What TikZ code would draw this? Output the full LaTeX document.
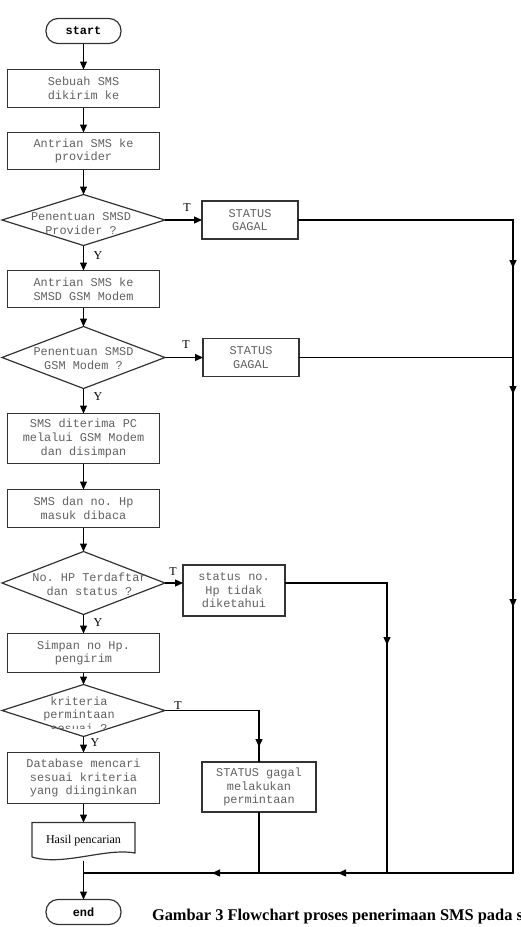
\documentclass[tikz,border=0pt]{standalone}
\usepackage{fontspec}
\setmainfont{Liberation Serif}
\setmonofont{Liberation Mono}
\usetikzlibrary{positioning,shapes.geometric,arrows.meta,decorations.markings,calc}

\newcommand{\boxfont}{\fontsize{11.9}{13.6}\selectfont\ttfamily}

\begin{document}
\begin{tikzpicture}[x=1pt, y=-1pt, line width=1.2pt, every node/.style={outer sep=0pt},
    main/.style = {draw=black!80, rectangle, minimum width=151.5pt, align=center, inner sep=1pt, text=black!62, font=\boxfont},
    term/.style = {draw=black!80, rounded corners=12pt, minimum width=75pt, minimum height=25pt, inner sep=0pt, font=\boxfont\bfseries},
    dec/.style = {draw=black!80, diamond, inner sep=0pt, minimum width=163pt},
    dectext/.style = {align=center, text=black!62, font=\boxfont, inner sep=0pt},
    lbl/.style = {font=\fontsize{12}{14}\selectfont, inner sep=0pt},
    flow/.style = {draw=black, -{Triangle[length=8pt,width=7pt]}},
    line/.style = {draw=black},
    midtip/.style = {postaction={decorate, decoration={markings, mark=at position #1 with {\arrow{Triangle[length=8pt,width=7pt]}}}}}]
    \useasboundingbox (0,0) rectangle (520,927);

    % main column
    \node[term] (1) at (83.5,31) {start};
    \node[main, minimum height=38pt] (2) [below=26pt of 1] {Sebuah SMS\\dikirim ke};
    \node[main, minimum height=37pt] (3) [below=25pt of 2] {Antrian SMS ke\\provider};
    \node[dec, minimum height=51pt, label={[dectext, xshift=-2.5pt, yshift=-3.5pt]center:Penentuan SMSD\\Provider ?}] (4) [below=25pt of 3] {};
    \node[main, minimum height=37pt] (5) [below=25pt of 4] {Antrian SMS ke\\SMSD GSM Modem};
    \node[dec, minimum height=62pt, label={[dectext, yshift=-1pt]center:Penentuan SMSD\\GSM Modem ?}] (6) [below=19pt of 5] {};
    \node[main, minimum height=50pt] (7) [below=25pt of 6] {SMS diterima PC\\melalui GSM Modem\\dan disimpan};
    \node[main, minimum height=38pt] (8) [below=26pt of 7] {SMS dan no. Hp\\masuk dibaca};
    \node[dec, minimum height=63pt, label={[dectext, xshift=6pt, yshift=-1.5pt]center:No. HP Terdaftar\\dan status ?}] (9) [below=24pt of 8] {};
    \node[main, minimum height=39pt] (10) [below=19pt of 9] {Simpan no Hp.\\pengirim};
    \node[dec, minimum height=52pt] (11) [below=12pt of 10] {};
    \node[main, minimum height=51pt] (12) [below=16pt of 11] {Database mencari\\sesuai kriteria\\yang diinginkan};
    \node[minimum width=103pt, minimum height=38pt, inner sep=0pt, font=\fontsize{12}{14}\selectfont] (13) [below=19pt of 12] {\raisebox{4pt}{Hasil pencarian}};
    \node[term] (14) [below=39pt of 13] {end};

    % side boxes
    \node[main, minimum width=96pt, minimum height=38pt] (15) [right=37pt of 4] {STATUS\\GAGAL};
    \node[main, minimum width=96pt, minimum height=38pt] (16) [right=38pt of 6] {STATUS\\GAGAL};
    \node[main, minimum width=102pt, minimum height=51pt] (17) [right=18pt of 9, yshift=-7.5pt] {status no.\\Hp tidak\\diketahui};
    \node[main, minimum width=114pt, minimum height=50pt] (18) at (259,787) {STATUS gagal\\melakukan\\permintaan};

    % text of the last decision, cut off near its lower edge
    \begin{scope}
        \clip ($(11.north)+(-100,0)$) rectangle ($(11.south)+(100,-8)$);
        \node[dectext] (11t) at ($(11)+(-4.5,4)$) {kriteria\\permintaan\\sesuai ?};
    \end{scope}

    % document outline
    \draw[black!80] ($(13.south west)+(0,-3.5)$) -- (13.north west) -- (13.north east) -- ($(13.south east)+(0,-7.5)$)
        .. controls ($(13.south east)+(-30,-13)$) and ($(13.south)+(-20,6)$) .. ($(13.south west)+(0,-3.5)$);

    \coordinate (rb) at (513,873);
    \coordinate (jn) at (1 |- rb);
    \coordinate (mb) at (387,873);

    \path
    (1) edge[flow] (2)
    (2) edge[flow] (3)
    (3) edge[flow] (4)
    (4) edge[flow] (5)
    (5) edge[flow] (6)
    (6) edge[flow] (7)
    (7) edge[flow] (8)
    (8) edge[flow] (9)
    (9) edge[flow] (10)
    (10) edge[flow] (11)
    (11) edge[flow] (12)
    (12) edge[flow] (13)
    (13) edge[flow] (14)
    (4) edge[flow] (15)
    (6) edge[flow] (16)
    (9) edge[flow] (9 -| 17.west)
    ;

    \draw[line, midtip=263pt, midtip=389pt, midtip=602pt, midtip=1043pt, midtip=1169pt] (15) -- (15 -| rb) -- (rb) -- (jn);
    \draw[line] (16) -- (16 -| rb);
    \draw[line, midtip=164pt] (9 -| 17.east) -- (9 -| mb) -- (mb);
    \draw[line, midtip=130.5pt] (11) -- (11 -| 18) -- (18);
    \draw[line] (18) -- (18 |- rb);

    % labels
    \node[lbl] (T1) at (187,208) {T};
    \node[lbl] (Y1) at (98,256) {Y};
    \node[lbl] (T2) at (186,345) {T};
    \node[lbl] (Y2) at (98,397) {Y};
    \node[lbl] (T3) at (173,572) {T};
    \node[lbl] (Y3) at (98,623) {Y};
    \node[lbl] (T4) at (178,706) {T};
    \node[lbl] (Y4) at (95,743) {Y};

    \node[font=\fontsize{16.4}{18}\selectfont\bfseries, anchor=base west, inner sep=0pt] (cap) at (152,920) {Gambar 3 Flowchart proses penerimaan SMS pada s};
\end{tikzpicture}
\end{document}
